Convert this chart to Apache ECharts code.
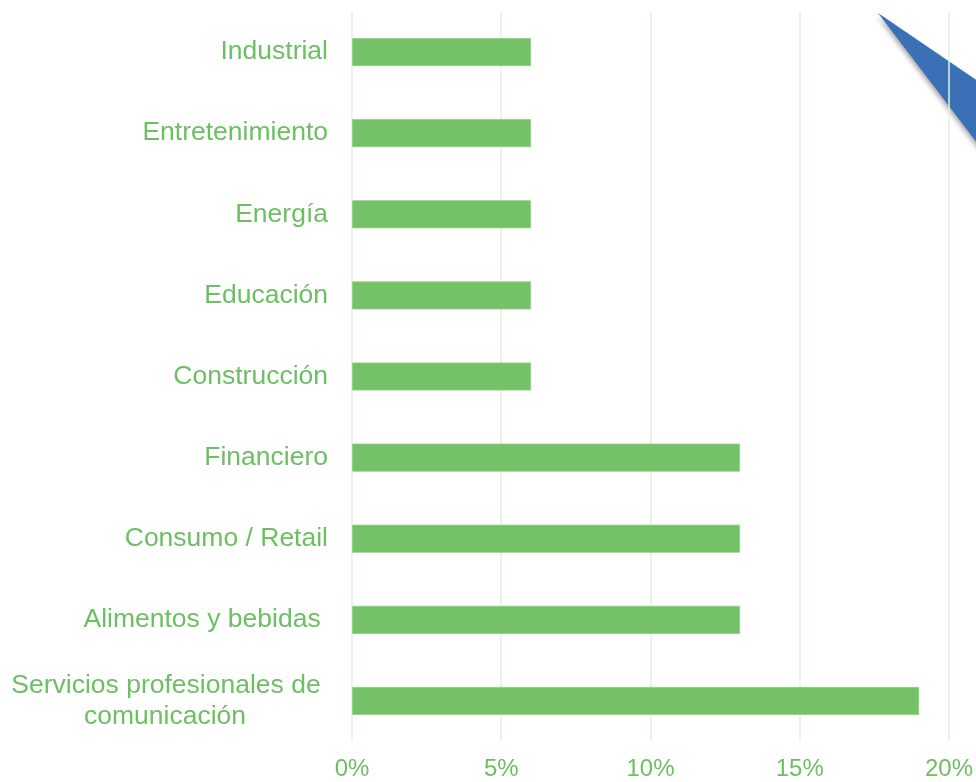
<!DOCTYPE html>
<html>
<head>
<meta charset="utf-8">
<script src="https://cdn.jsdelivr.net/npm/echarts@6/dist/echarts.min.js"></script>
<style>
html,body{margin:0;padding:0;background:#fff;}
#chart{width:976px;height:782px;}
</style>
</head>
<body>
<div id="chart"></div>
<script>
// Categories from top to bottom as shown
const categories = [
  'Industrial',
  'Entretenimiento',
  'Energía',
  'Educación',
  'Construcción',
  'Financiero',
  'Consumo / Retail',
  'Alimentos y bebidas ',
  'Servicios profesionales de comunicación'
];
const values = [0.06, 0.06, 0.06, 0.06, 0.06, 0.13, 0.13, 0.13, 0.19];
const tickValues = [0, 0.05, 0.10, 0.15, 0.20];

const green = '#74c167';
const textGreen = '#6dbf63';
const FONT = '"Liberation Sans", Arial, sans-serif';

const chart = echarts.init(document.getElementById('chart'), null, {renderer: 'canvas'});
const option = {
  animation: false,
  backgroundColor: '#ffffff',
  graphic: [{
    type: 'polygon',
    z: -10,
    shape: { points: [[878, 13], [1000, 96], [1000, 173]] },
    style: {
      fill: '#3b6fb6',
      shadowBlur: 5,
      shadowColor: 'rgba(0,0,0,0.35)',
      shadowOffsetX: -1,
      shadowOffsetY: 3
    }
  }],
  grid: { left: 352, right: 27, top: 11.5, bottom: 40.5, containLabel: false },
  xAxis: {
    type: 'value',
    min: 0,
    max: 0.20,
    interval: 0.05,
    axisLine: { show: false },
    axisTick: { show: false },
    splitLine: { show: true, lineStyle: { color: '#e2f3de', width: 1.5 } },
    axisLabel: {
      color: textGreen,
      fontFamily: FONT,
      fontSize: 24,
      margin: 16,
      formatter: v => Math.round(v * 100) + '%'
    }
  },
  yAxis: {
    type: 'category',
    inverse: true,
    data: categories,
    axisLine: { show: false },
    axisTick: { show: false },
    splitLine: { show: false },
    axisLabel: {
      color: textGreen,
      fontFamily: FONT,
      fontSize: 26.5,
      margin: 24,
      formatter: function (v) {
        if (v === 'Servicios profesionales de comunicación') {
          return '{a|Servicios profesionales de }\n{b|comunicación}';
        }
        return v;
      },
      rich: {
        a: { color: textGreen, fontFamily: FONT, fontSize: 26.5, lineHeight: 31 },
        b: { color: textGreen, fontFamily: FONT, fontSize: 26.5, lineHeight: 31, padding: [0, 82, 0, 0] }
      }
    }
  },
  series: [{
    type: 'bar',
    data: values,
    barWidth: 28,
    itemStyle: { color: green, borderColor: '#8fd084', borderWidth: 0.8 },
    label: { show: false }
  }]
};
chart.setOption(option);
</script>
</body>
</html>
